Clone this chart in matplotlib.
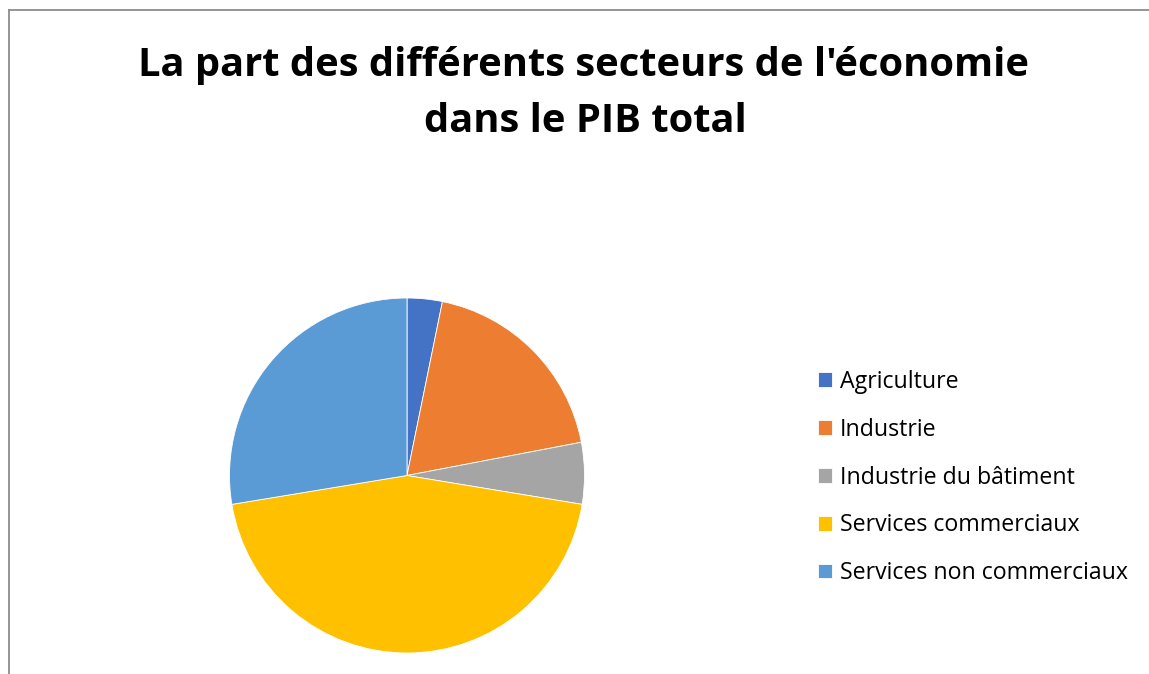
import matplotlib.pyplot as plt
from matplotlib.lines import Line2D

# parts du PIB (%)
secteurs = ['Agriculture', 'Industrie', 'Industrie du bâtiment',
            'Services commerciaux', 'Services non commerciaux']
parts = [3.2, 18.8, 5.6, 44.8, 27.6]
couleurs = ['#4472C4', '#ED7D31', '#A5A5A5', '#FFC000', '#5B9BD5']

W, H = 1149, 674
fig = plt.figure(figsize=(W / 100, H / 100), dpi=100)
fig.patch.set_facecolor('white')

# cadre gris (bords gauche et haut visibles)
fig.add_artist(Line2D([8.5 / W, 8.5 / W], [0, 1 - 10 / H], transform=fig.transFigure, color='#8c8c8c', lw=1.3))
fig.add_artist(Line2D([8.5 / W, 1], [1 - 10 / H, 1 - 10 / H], transform=fig.transFigure, color='#8c8c8c', lw=1.3))

# titre
fig.text(584 / W, 1 - 75.7 / H, "La part des différents secteurs de l'économie",
         ha='center', va='baseline', fontsize=28.7, fontweight='bold', family='Open Sans')
fig.text(585 / W, 1 - 131.7 / H, "dans le PIB total",
         ha='center', va='baseline', fontsize=28.7, fontweight='bold', family='Open Sans')

# camembert
cx, cy, r = 407, 475.5, 177.5
ax = fig.add_axes([(cx - r) / W, (H - cy - r) / H, 2 * r / W, 2 * r / H])
wedges, _ = ax.pie(parts, colors=couleurs, startangle=90, counterclock=False,
                   radius=1, wedgeprops=dict(edgecolor='white', linewidth=0.6))
ax.set_xlim(-1, 1)
ax.set_ylim(-1, 1)
ax.axis('off')

fig.legend(wedges, secteurs, loc='center left', bbox_to_anchor=(818 / W, 1 - 477.5 / H),
           frameon=False, prop={'family': 'Open Sans', 'size': 16.7},
           borderaxespad=0, borderpad=0,
           handlelength=0.6, handleheight=0.6, handletextpad=0.35, labelspacing=1.03)

fig.savefig('out.png', dpi=100)
